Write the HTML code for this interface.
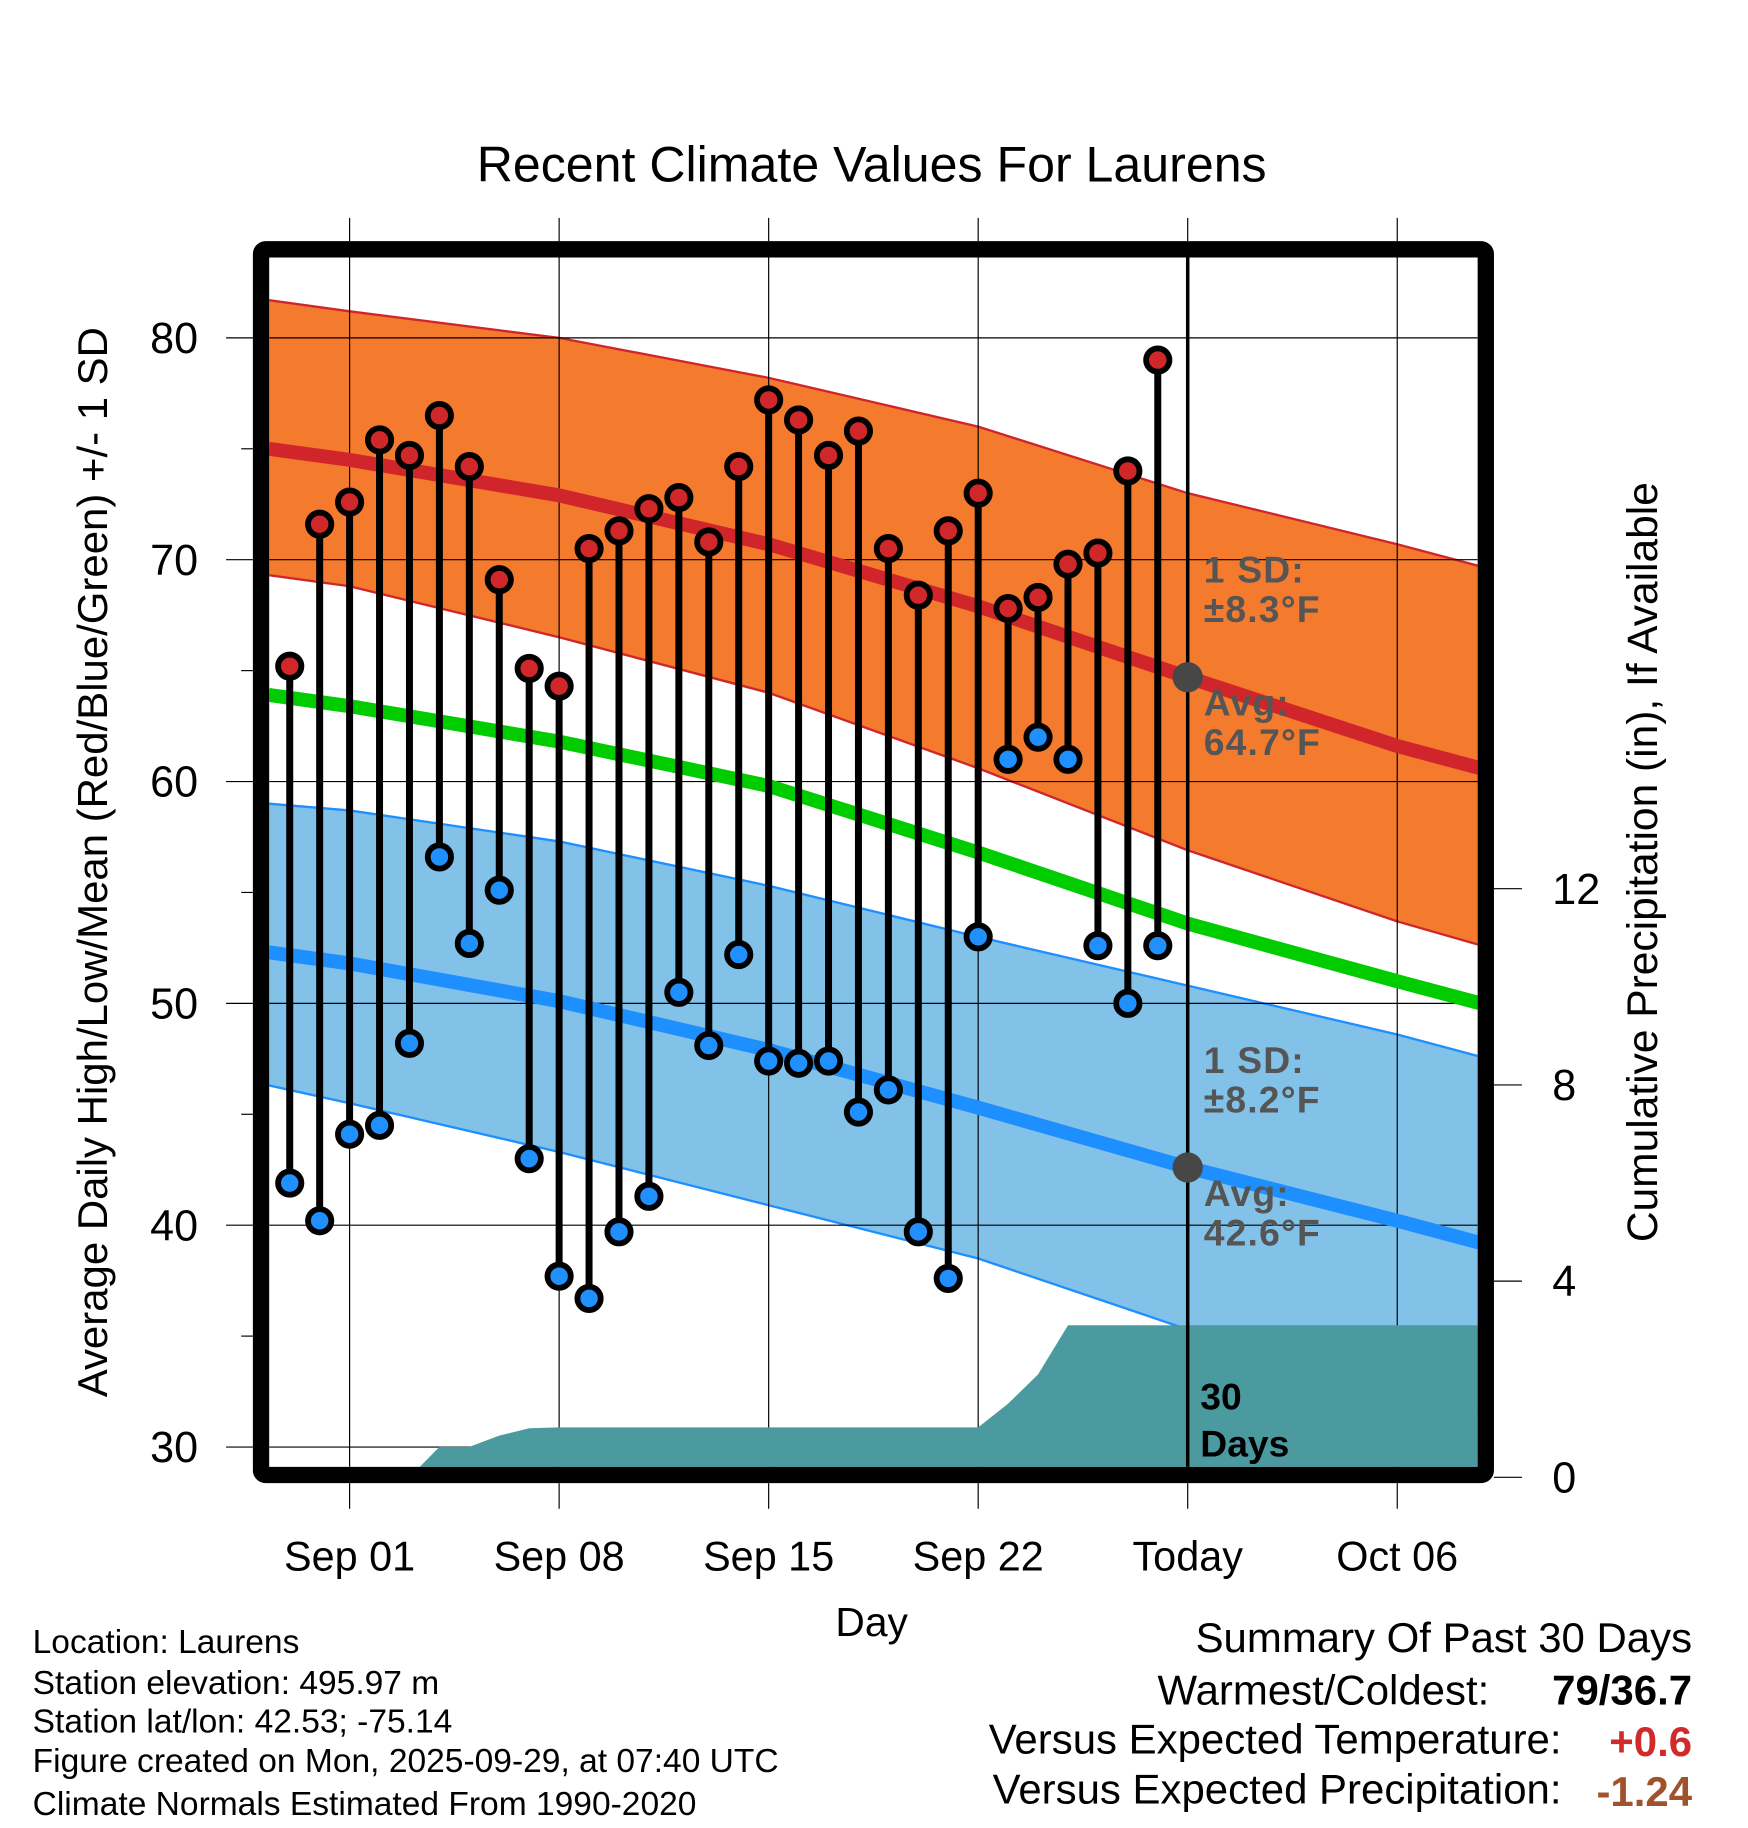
<!DOCTYPE html>
<html><head><meta charset="utf-8"><style>
html,body{margin:0;padding:0;background:#fff;}
svg{display:block;font-family:"Liberation Sans",sans-serif;}
</style></head><body>
<svg id="chart" width="1748" height="1828" viewBox="0 0 1500 1569" preserveAspectRatio="none" xmlns="http://www.w3.org/2000/svg">
<defs><clipPath id="plotclip"><rect x="231" y="221" width="1037" height="1038"/></clipPath></defs>
<text x="748" y="156" font-size="43" text-anchor="middle">Recent Climate Values For Laurens</text>
<g id="plot" clip-path="url(#plotclip)"></g>
<g id="over"></g>
</svg>
<script>
// ---- data ----
const obsDays = [-2,-1,0,1,2,3,4,5,6,7,8,9,10,11,12,13,14,15,16,17,18,19,20,21,22,23,24,25,26,27]; // days relative to Sep 01
const highs = [65.2,71.6,72.6,75.4,74.7,76.5,74.2,69.1,65.1,64.3,70.5,71.3,72.3,72.8,70.8,74.2,77.2,76.3,74.7,75.8,70.5,68.4,71.3,73.0,67.8,68.3,69.8,70.3,74.0,79.0];
const lows  = [41.9,40.2,44.1,44.5,48.2,56.6,52.7,55.1,43.0,37.7,36.7,39.7,41.3,50.5,48.1,52.2,47.4,47.3,47.4,45.1,46.1,39.7,37.6,53.0,61.0,62.0,61.0,52.6,50.0,52.6];
const normDays = [-2.7,0,7,14,21,28,35,38.6];
const highMean = [75.0,74.5,72.9,70.7,67.9,64.7,61.6,60.3];
const highUpper = [81.7,81.2,80.0,78.2,76.0,73.0,70.7,69.4];
const highLower = [69.3,68.8,66.5,64.0,60.6,56.9,53.7,52.3];
const meanNorm = [63.9,63.4,61.8,59.8,56.8,53.6,51.0,49.7];
const lowMean = [52.3,51.8,50.1,47.9,45.3,42.6,40.2,38.9];
const lowUpper = [59.0,58.7,57.3,55.3,53.0,50.8,48.6,47.3];
const lowLower = [46.3,45.5,43.3,40.9,38.5,35.3,32.6,31.0];
const precipDays = [-2.7,2,3,4,5,6,7,21,22,23,24,38.6];
const precipCum = [0,0,0.62,0.62,0.85,1.0,1.02,1.02,1.5,2.1,3.1,3.1];
const xTickDays = [0,7,14,21,28,35];
const xTickLabels = ["Sep 01","Sep 08","Sep 15","Sep 22","Today","Oct 06"];
const yTicks = [30,40,50,60,70,80];
const pTicks = [0,4,8,12];
// ---- scales ----
const X = d => 300 + d*(179.8/7);
const Y = v => 290 + (80-v)*19.04;
const P = p => 1268 - p*42.1;
const NS="http://www.w3.org/2000/svg";
const plot=document.getElementById('plot'), over=document.getElementById('over');
function mk(parent,tag,attrs,txt){const e=document.createElementNS(NS,tag);for(const k in attrs)e.setAttribute(k,attrs[k]);if(txt!==undefined)e.textContent=txt;parent.appendChild(e);return e;}
function pts(days,vals,sc){return days.map((d,i)=>X(d).toFixed(1)+','+sc(vals[i]).toFixed(1));}
function band(up,lo,fill,edge,name){
  const p=pts(normDays,up,Y).concat(pts(normDays,lo,Y).reverse());
  const e=mk(plot,'polygon',{points:p.join(' '),fill:fill});
  
  
  mk(plot,'polyline',{points:pts(normDays,up,Y).join(' '),fill:'none',stroke:edge,'stroke-width':2});
  mk(plot,'polyline',{points:pts(normDays,lo,Y).join(' '),fill:'none',stroke:edge,'stroke-width':2});
}
band(highUpper,highLower,'#f47a2e','#d0262b','high-sd-band');
band(lowUpper,lowLower,'#82c1e8','#1e8fff','low-sd-band');
// grid
yTicks.forEach(v=>{mk(plot,'line',{x1:231,x2:1268,y1:Y(v),y2:Y(v),stroke:'#000','stroke-width':1});});
xTickDays.forEach(d=>{mk(plot,'line',{x1:X(d),x2:X(d),y1:221,y2:1259,stroke:'#000','stroke-width':1});});
// precip
{const p=pts(precipDays,precipCum,P);p.push(X(38.6)+','+P(0),X(-2.7)+','+P(0));
 const e=mk(plot,'polygon',{points:p.join(' '),fill:'#4a9aa0'});
 
 }
function line(vals,color,name){const e=mk(plot,'polyline',{points:pts(normDays,vals,Y).join(' '),fill:'none',stroke:color,'stroke-width':12});
 
 }
line(meanNorm,'#00cc00','normal-mean-line');
line(highMean,'#d0262b','normal-high-line');
line(lowMean,'#1e8fff','normal-low-line');
// obs
obsDays.forEach((d,i)=>{
  mk(plot,'line',{x1:X(d),x2:X(d),y1:Y(highs[i]),y2:Y(lows[i]),stroke:'#000','stroke-width':6});
});
obsDays.forEach((d,i)=>{
  const h=mk(plot,'circle',{cx:X(d),cy:Y(highs[i]),r:10,fill:'#d0282a',stroke:'#000','stroke-width':5});
  
  
  const l=mk(plot,'circle',{cx:X(d),cy:Y(lows[i]),r:10,fill:'#2090ff',stroke:'#000','stroke-width':5});
  
  
});
// today line & markers
mk(plot,'line',{x1:X(28),x2:X(28),y1:221,y2:1259,stroke:'#000','stroke-width':3});
mk(plot,'circle',{cx:X(28),cy:Y(64.7),r:13,fill:'#474747'});
mk(plot,'circle',{cx:X(28),cy:Y(42.6),r:13,fill:'#474747'});
const ann=[["1 SD:",500],["±8.3°F",534],["Avg:",614],["64.7°F",648],["1 SD:",921],["±8.2°F",955],["Avg:",1035],["42.6°F",1069]];
ann.forEach(a=>{const t=mk(over,'text',{x:1033,y:a[1],'font-size':32,'font-weight':'bold',fill:'#555','letter-spacing':1},a[0]);
 
 });
mk(over,'text',{x:1030,y:1210,'font-size':32,'font-weight':'bold'},"30");
mk(over,'text',{x:1030,y:1250,'font-size':32,'font-weight':'bold'},"Days");
// frame
mk(over,'rect',{x:224,y:214,width:1051,height:1052,fill:'none',stroke:'#000','stroke-width':14,rx:4});
// outer ticks
yTicks.forEach(v=>{mk(over,'line',{x1:194,x2:217,y1:Y(v),y2:Y(v),stroke:'#000','stroke-width':1});
 const t=mk(over,'text',{x:170,y:Y(v)+13,'font-size':37,'text-anchor':'end'},String(v));
 
 });
[35,45,55,65,75].forEach(v=>{mk(over,'line',{x1:207,x2:217,y1:Y(v),y2:Y(v),stroke:'#000','stroke-width':1});});
pTicks.forEach(p=>{mk(over,'line',{x1:1282,x2:1306,y1:P(p),y2:P(p),stroke:'#000','stroke-width':1});
 const t=mk(over,'text',{x:1332,y:P(p)+13,'font-size':37,'text-anchor':'start'},String(p));
 
 });
xTickDays.forEach((d,i)=>{mk(over,'line',{x1:X(d),x2:X(d),y1:187,y2:207,stroke:'#000','stroke-width':1});
 mk(over,'line',{x1:X(d),x2:X(d),y1:1273,y2:1295,stroke:'#000','stroke-width':1});
 const t=mk(over,'text',{x:X(d),y:1348,'font-size':35.5,'text-anchor':'middle'},xTickLabels[i]);
 
 });
</script>
<svg style="position:absolute;left:0;top:0" width="1748" height="1828" viewBox="0 0 1500 1569" preserveAspectRatio="none" font-family="Liberation Sans, sans-serif">
<text x="748" y="1404" font-size="35" text-anchor="middle">Day</text>
<text transform="translate(92,740) rotate(-90)" font-size="36" text-anchor="middle">Average Daily High/Low/Mean (Red/Blue/Green) +/- 1 SD</text>
<text transform="translate(1422,740) rotate(-90)" font-size="36.5" text-anchor="middle">Cumulative Precipitation (in), If Available</text>
<g font-size="28.8">
<text x="28" y="1419">Location: Laurens</text>
<text x="28" y="1454">Station elevation: 495.97 m</text>
<text x="28" y="1487">Station lat/lon: 42.53; -75.14</text>
<text x="28" y="1521">Figure created on Mon, 2025-09-29, at 07:40 UTC</text>
<text x="28" y="1558">Climate Normals Estimated From 1990-2020</text>
</g>
<g font-size="36">
<text x="1452" y="1418" text-anchor="end">Summary Of Past 30 Days</text>
<text x="1278" y="1463" text-anchor="end">Warmest/Coldest:</text>
<text x="1452" y="1463" text-anchor="end" font-weight="bold">79/36.7</text>
<text x="1340" y="1505" text-anchor="end">Versus Expected Temperature:</text>
<text x="1452" y="1507" text-anchor="end" font-weight="bold" fill="#d02a2a">+0.6</text>
<text x="1340" y="1548" text-anchor="end">Versus Expected Precipitation:</text>
<text x="1452" y="1550" text-anchor="end" font-weight="bold" fill="#a0522d">-1.24</text>
</g>
</svg>
</body></html>
